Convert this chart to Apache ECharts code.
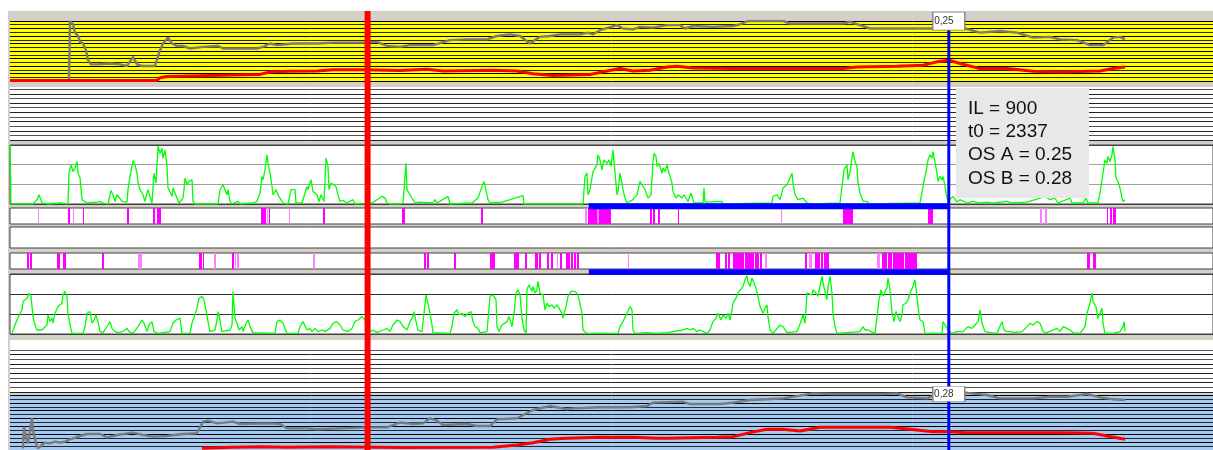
<!DOCTYPE html>
<html><head><meta charset="utf-8">
<script src="https://cdn.jsdelivr.net/npm/echarts@6/dist/echarts.min.js"></script>
<style>html,body{margin:0;padding:0;background:#fff}#c{width:1213px;height:450px}</style>
</head><body><div id="c"></div>
<script>
// ---------------- DATA (x = sample index, 1 sample = DT time units) ----------------
const DT = 2.5;
const IL = 900;
const T0 = 2337;
const CUT_T = 884;
const OS_A = 0.25;
const OS_B = 0.28;

// upper panel (yellow): reference (gray) and OS A (red)
const grayA = [[55,0],[56,0.72],[58,0.72],[59,0.68],[61,0.58],[63,0.6],[64,0.54],[66,0.47],[69,0.45],[72,0.37],[74,0.25],[77,0.2],[83,0.2],[96,0.21],[106,0.2],[113,0.18],[119,0.29],[123,0.2],[128,0.18],[141,0.18],[146,0.37],[149,0.45],[154,0.52],[158,0.45],[163,0.42],[169,0.42],[176,0.39],[189,0.41],[204,0.42],[209,0.39],[226,0.39],[243,0.39],[249,0.41],[256,0.45],[263,0.43],[279,0.45],[303,0.45],[319,0.46],[333,0.46],[349,0.46],[363,0.47],[373,0.42],[386,0.41],[396,0.43],[419,0.43],[436,0.49],[453,0.5],[473,0.5],[483,0.54],[496,0.56],[506,0.54],[516,0.45],[526,0.53],[536,0.54],[546,0.56],[566,0.56],[574,0.58],[579,0.56],[586,0.61],[603,0.67],[609,0.63],[619,0.62],[626,0.65],[639,0.64],[653,0.67],[666,0.67],[671,0.63],[679,0.66],[699,0.65],[719,0.66],[726,0.68],[734,0.72],[753,0.72],[769,0.72],[776,0.69],[786,0.69],[829,0.69],[836,0.71],[846,0.67],[856,0.63],[886,0.63],[916,0.63],[951,0.63],[966,0.58],[986,0.6],[1003,0.58],[1019,0.52],[1036,0.53],[1046,0.5],[1063,0.49],[1076,0.43],[1089,0.43],[1099,0.52],[1106,0.53],[1111,0.5]];
const osA = [[-4,0.006],[143,0.006],[146,0.039],[153,0.055],[186,0.063],[219,0.071],[246,0.079],[256,0.108],[276,0.116],[303,0.12],[319,0.136],[349,0.136],[386,0.125],[413,0.14],[429,0.12],[479,0.128],[503,0.12],[519,0.088],[539,0.067],[576,0.079],[593,0.12],[606,0.149],[619,0.12],[636,0.128],[653,0.169],[663,0.177],[679,0.157],[719,0.149],[753,0.149],[786,0.149],[829,0.149],[843,0.169],[883,0.177],[909,0.189],[923,0.23],[935,0.25],[946,0.21],[966,0.149],[993,0.149],[1019,0.116],[1046,0.108],[1086,0.12],[1099,0.149],[1111,0.169]];

// activity A (green)
const greenA = [[-4,3],[-3,0],[19,0],[23,0.22],[25,0.47],[28,0.05],[35,0],[36,0.1],[37,0],[46,0.05],[54,0],[55,1.57],[57,1.99],[59,1.65],[61,1.82],[63,2.16],[64,1.57],[66,1.32],[68,0.22],[69,0.17],[73,0.05],[74,0],[83,0.1],[86,0.13],[89,0.05],[94,0],[97,0.69],[99,0.47],[101,0.13],[103,0.47],[105,0.39],[108,0.13],[110,0.05],[113,0.1],[114,0.73],[116,1.4],[119,2.21],[121,1.99],[123,1.57],[124,1.06],[126,0.73],[129,0.47],[131,0.13],[133,0.56],[134,0.73],[136,0.39],[138,0.05],[140,1.57],[142,1.06],[143,1.99],[144,2.95],[146,2.58],[148,2.83],[149,2.33],[151,2.75],[153,1.91],[154,0.81],[156,0.64],[158,0.39],[159,0.81],[161,0.56],[163,0.3],[165,0.05],[169,0.3],[170,0.73],[171,1.32],[173,0.98],[175,1.15],[178,1.23],[179,0.13],[181,0],[204,0],[206,0.73],[209,0.98],[211,0.73],[213,0.47],[214,0.73],[216,0.13],[218,0],[224,0.13],[226,0],[239,0.05],[243,0.13],[246,0.56],[248,1.4],[249,1.23],[251,1.74],[253,2.5],[254,2.07],[256,1.57],[258,0.89],[259,0.47],[262,0.73],[264,0.47],[266,0.3],[269,0.05],[274,0],[277,0.73],[279,0.81],[281,0.73],[282,0.05],[288,0.05],[289,0.13],[291,0.56],[293,0.89],[294,0.73],[297,1.23],[299,0.64],[301,0.56],[303,0.47],[305,0.13],[307,0.47],[310,0.13],[312,2.33],[314,1.91],[315,0.73],[317,1.06],[319,0.98],[322,0.89],[324,0.47],[326,0.13],[329,0.19],[333,0.05],[339,0.22],[341,0],[358,0.05],[359,0.13],[363,0.22],[368,0.39],[371,0.3],[373,0.05],[376,0],[386,0],[389,0.05],[390,0.73],[392,2.07],[393,0.73],[396,0.47],[399,0.22],[401,0.05],[404,0.1],[406,0],[419,0.05],[421,0.22],[423,0.05],[434,0.39],[436,0],[458,0.05],[459,0.13],[464,0.3],[468,0.89],[470,1.15],[472,1.06],[474,0.22],[476,0.05],[488,0.1],[489,0],[509,0.42],[510,0],[569,0],[571,1.4],[573,1.57],[574,0.47],[576,0.73],[578,0.64],[579,1.65],[581,1.74],[583,1.99],[584,2.5],[586,2.24],[588,1.74],[590,2.24],[593,2.07],[595,2.24],[597,1.91],[599,2.75],[600,2.16],[603,0.47],[604,0.64],[606,1.57],[608,1.06],[609,0.73],[611,0.3],[613,0.05],[619,0.22],[623,0.47],[626,1.15],[629,0.89],[631,0.73],[634,0.3],[637,0.47],[639,2.16],[640,2.58],[642,2.41],[643,1.91],[645,2.07],[648,1.57],[649,1.82],[651,1.65],[653,1.99],[655,1.57],[658,1.06],[659,0.64],[662,0.3],[664,0.47],[668,0.3],[670,0.47],[672,0.39],[674,0.13],[677,0.56],[679,0.22],[680,0.05],[689,0.05],[690,0.81],[691,0.1],[708,0.13],[709,0],[758,0.05],[759,0.39],[763,0.47],[766,0.22],[769,0.81],[773,0.98],[776,1.32],[778,1.57],[779,1.06],[781,0.47],[784,0.22],[786,0.13],[789,0.3],[793,0.05],[799,0],[826,0.05],[828,0.13],[830,1.74],[833,1.99],[834,1.23],[836,1.65],[838,1.57],[839,2.66],[841,2.16],[843,1.91],[844,1.06],[846,0.56],[849,0.13],[853,0.13],[856,0],[906,0.05],[908,0.13],[909,0.89],[911,1.4],[913,1.91],[914,2.24],[916,2.5],[918,2.33],[919,2.66],[921,2.66],[923,1.57],[924,1.15],[926,1.4],[928,1.23],[929,1.4],[931,0.89],[933,0.3],[934,0.13],[936,0.05],[939,0.39],[943,0.1],[946,0.22],[953,0.05],[959,0.13],[966,0.05],[973,0.1],[979,0.05],[993,0.13],[999,0.05],[1013,0.1],[1026,0.3],[1031,0.39],[1036,0.22],[1041,0.3],[1044,0.05],[1056,0.3],[1058,0.05],[1069,0.05],[1072,0.3],[1074,0.05],[1084,0.05],[1086,0.56],[1088,1.23],[1089,1.57],[1091,2.24],[1093,2.07],[1094,2.41],[1096,2.16],[1098,2.5],[1099,2.92],[1101,2.24],[1102,1.32],[1104,1.15],[1106,0.81],[1108,0.3],[1109,0.13],[1111,0.22]];

// event ticks A / B : [start, end, strong(1)/weak(0)]
const ticksA = [[24,25,0],[54,56,1],[59,60,0],[69,70,1],[113,115,1],[139,141,1],[143,147,1],[247,252,1],[253,254,0],[255,256,1],[275,276,0],[309,311,1],[388,391,1],[467,469,1],[571,573,0],[574,583.5,1],[584.5,597,1],[636,638,1],[639,641,1],[644,646,1],[664,665,1],[767,768,0],[829,839,1],[914,919,1],[1026,1028,0],[1031,1033,0],[1093,1094,1],[1096,1098,1],[1099,1102,1]];
const ticksB = [[13,15,1],[16,18,1],[43,46,1],[49,52,1],[88,90,1],[124,128,0],[185,188,1],[189,190,1],[200,202,0],[218,220,1],[221,222,0],[223,225,0],[299,301,0],[410,412,1],[413,415,1],[440,442,1],[476,481,1],[500,505,1],[511,513,1],[521,524,1],[525,527,1],[533,535,1],[537,539,1],[543,544,0],[546,548,1],[552,556,1],[557,559,1],[560,562,1],[563,565,1],[614,615,0],[702,706,1],[711,713,1],[714,716,1],[719,730,1],[731,740,1],[741,745,1],[746,748,1],[751,753,0],[791,793,1],[795,798,0],[801,806,1],[807,809,1],[810,815,1],[863,866,0],[868,873,1],[874,878,1],[879,890,1],[891,903,1],[1073,1076,1],[1079,1082,1]];

// activity B (green)
const greenB = [[-2,0.03],[1,0.45],[3,0.7],[5,0.79],[8,1.21],[9,1.62],[11,1.54],[13,1.79],[15,2.04],[17,1.88],[19,0.87],[21,0.45],[23,0.2],[25,0.12],[28,0.2],[30,0.12],[33,0.45],[34,0.95],[36,0.62],[38,0.79],[39,0.54],[41,1.04],[43,1.12],[44,1.37],[46,1.29],[48,1.54],[49,1.96],[51,2.13],[53,1.88],[54,1.04],[56,0.45],[58,0.03],[69,0.03],[71,0.37],[73,1.04],[76,1.12],[78,0.54],[80,0.7],[82,0.95],[84,0.62],[86,0.12],[89,0.07],[94,0.45],[96,0.62],[98,0.28],[101,0.12],[104,0.07],[109,0.12],[113,0.28],[115,0.12],[119,0.03],[124,0.37],[128,0.7],[130,0.54],[133,0.12],[135,0.45],[138,0.62],[140,0.12],[144,0.03],[156,0.12],[159,0.54],[162,0.7],[166,0.79],[168,0.03],[176,0.03],[178,0.54],[180,0.62],[183,1.29],[185,1.79],[188,1.88],[190,1.71],[192,1.21],[194,0.62],[196,0.12],[201,0.2],[203,0.7],[204,1.12],[206,0.7],[208,0.12],[216,0.2],[218,0.45],[219,2.13],[221,0.79],[223,0.54],[225,0.2],[228,0.37],[229,0.12],[232,0.54],[234,0.7],[236,0.37],[239,0.07],[261,0.03],[263,0.62],[266,0.7],[269,0.54],[273,0.03],[284,0.03],[286,0.37],[289,0.62],[291,0.54],[293,0.2],[296,0.28],[298,0.12],[301,0.28],[304,0.12],[308,0.2],[311,0.12],[316,0.28],[319,0.54],[323,0.62],[326,0.45],[329,0.2],[331,0.28],[334,0.12],[338,0.28],[341,0.62],[344,0.7],[348,0.87],[351,0.7],[353,0.28],[356,0.12],[359,0.2],[363,0.07],[369,0.2],[373,0.28],[376,0.12],[379,0.45],[383,0.7],[386,0.62],[389,0.37],[393,0.2],[396,0.62],[399,0.87],[400,1.12],[402,0.62],[404,0.2],[408,0.12],[410,1.04],[412,1.96],[414,1.88],[416,1.04],[418,0.45],[419,0.07],[436,0.03],[438,0.37],[440,1.04],[443,1.21],[445,0.95],[448,1.04],[451,0.87],[454,1.04],[457,1.12],[459,0.62],[461,0.37],[464,0.28],[466,0.07],[473,0.12],[476,1.88],[479,1.96],[482,1.71],[483,0.37],[485,0.12],[488,0.45],[490,0.37],[493,0.62],[495,0.87],[498,0.37],[500,1.04],[502,2.04],[504,2.21],[506,1.96],[508,0.79],[510,0.2],[512,0.03],[513,2.21],[515,2.46],[518,2.13],[519,2.38],[521,2.04],[523,2.21],[524,2.63],[526,2.04],[529,1.96],[531,1.21],[533,1.54],[535,1.37],[538,1.46],[540,1.29],[543,1.46],[545,1.37],[548,1.04],[549,0.79],[552,1.37],[554,1.88],[557,2.13],[559,2.04],[561,2.13],[564,1.96],[566,2.04],[568,1.04],[569,0.2],[573,0.03],[604,0.03],[606,0.37],[609,0.62],[611,0.7],[613,1.04],[616,1.37],[618,1.21],[619,0.2],[621,0.03],[633,0.07],[643,0.03],[653,0.07],[669,0.2],[673,0.28],[676,0.2],[679,0.28],[683,0.12],[686,0.2],[693,0.03],[696,0.2],[699,0.62],[702,0.79],[704,1.04],[707,0.7],[709,0.95],[712,0.79],[714,1.04],[716,0.7],[718,1.21],[719,1.54],[722,1.79],[724,2.04],[726,2.13],[729,2.38],[731,2.71],[733,2.91],[734,2.63],[736,2.38],[738,2.8],[740,2.55],[742,2.29],[744,1.88],[746,1.37],[749,1.04],[751,1.29],[753,1.46],[754,0.87],[756,0.2],[759,0.03],[766,0.45],[769,0.37],[773,0.07],[783,0.12],[786,0.5],[789,0.95],[791,0.54],[793,2.04],[795,2.13],[798,1.96],[799,2.21],[802,2.04],[804,1.88],[806,2.38],[808,2.88],[809,2.55],[811,2.63],[813,1.71],[814,2.38],[816,2.88],[818,2.04],[819,1.04],[821,0.37],[823,0.03],[846,0.12],[849,0.37],[851,0.2],[854,0.2],[857,0.12],[861,0.03],[863,0.87],[865,1.71],[867,2.21],[869,1.88],[871,2.13],[873,2.29],[874,2.8],[876,2.21],[878,1.04],[880,0.62],[882,1.12],[884,0.87],[886,0.62],[888,0.95],[889,1.46],[892,1.54],[894,1.71],[896,2.04],[899,2.38],[901,2.71],[903,2.8],[904,1.37],[906,0.7],[909,0.62],[911,0.03],[928,0.03],[929,0.62],[932,0.37],[934,0.2],[938,0.03],[943,0.12],[949,0.12],[951,0.2],[954,0.37],[958,0.28],[961,0.45],[964,0.62],[966,1.21],[968,0.54],[971,0.12],[976,0.07],[983,0.03],[988,0.62],[990,0.2],[993,0.12],[996,0.12],[1001,0.07],[1008,0.12],[1013,0.37],[1016,0.54],[1019,0.45],[1023,0.62],[1026,0.54],[1029,0.12],[1033,0.07],[1039,0.2],[1043,0.28],[1046,0.12],[1049,0.37],[1053,0.28],[1056,0.2],[1059,0.07],[1066,0.03],[1071,0.37],[1073,1.04],[1076,1.54],[1078,2.04],[1079,1.62],[1082,1.37],[1084,0.79],[1086,1.04],[1088,1.29],[1089,0.54],[1091,0.03],[1099,0.03],[1106,0.12],[1109,0.37],[1110,0.62],[1111,0.12]];

// lower panel (blue): reference (gray) and OS B (red)
const grayB = [[9,0.025],[10,0.356],[12,0.204],[14,0.102],[18,0.484],[19,0.305],[22,0.102],[24,0.025],[28,0.076],[31,0.112],[36,0.102],[41,0.127],[46,0.112],[51,0.127],[56,0.163],[66,0.214],[73,0.244],[86,0.244],[93,0.193],[103,0.229],[119,0.265],[129,0.229],[139,0.204],[153,0.214],[169,0.244],[183,0.255],[189,0.433],[194,0.448],[203,0.407],[219,0.433],[226,0.397],[253,0.407],[266,0.397],[273,0.331],[293,0.331],[303,0.316],[326,0.331],[353,0.346],[373,0.346],[386,0.42],[399,0.397],[409,0.407],[416,0.484],[423,0.448],[429,0.382],[453,0.397],[463,0.366],[476,0.366],[483,0.468],[503,0.484],[519,0.611],[536,0.672],[553,0.621],[559,0.636],[586,0.652],[616,0.652],[633,0.672],[639,0.723],[669,0.738],[676,0.702],[706,0.702],[719,0.723],[736,0.764],[753,0.774],[769,0.789],[786,0.83],[799,0.865],[819,0.855],[869,0.855],[883,0.865],[893,0.804],[913,0.789],[919,0.825],[951,0.876],[973,0.84],[986,0.789],[1019,0.789],[1036,0.814],[1053,0.814],[1073,0.855],[1086,0.804],[1099,0.774],[1111,0.764]];
const osB = [[188,0.025],[219,0.041],[249,0.051],[273,0.041],[316,0.051],[386,0.04],[479,0.041],[503,0.076],[519,0.112],[536,0.163],[553,0.178],[586,0.193],[619,0.193],[643,0.178],[653,0.178],[703,0.193],[719,0.204],[736,0.265],[753,0.316],[769,0.316],[786,0.29],[806,0.346],[836,0.346],[876,0.346],[896,0.316],[919,0.28],[935,0.28],[953,0.265],[986,0.265],[1019,0.265],[1053,0.265],[1079,0.255],[1093,0.214],[1111,0.163]];

// ---------------- LAYOUT ----------------
const X_MIN = -4, X_MAX = 1199;
const t0s = T0 / DT, ils = IL / DT, cuts = CUT_T / DT;
const FONT = '"Liberation Sans", Arial, sans-serif';

const G = (o) => Object.assign({left: 10, right: 0, show: true, borderWidth: 0, outerBoundsMode: 'none', containLabel: false}, o);
const grids = [
  G({left: 8, top: 11, bottom: 0, backgroundColor: '#d4d0c8'}),               // 0 frame
  G({top: 21, height: 60, backgroundColor: '#ffff00'}),                        // 1 yellow
  G({top: 87, height: 53, backgroundColor: '#ffffff'}),                        // 2 white bg
  G({top: 89.3, height: 50.7, show: false}),                                   // 3 lines
  G({top: 145, height: 59, backgroundColor: '#ffffff', borderWidth: 1, borderColor: '#404040'}), // 4 green A
  G({top: 208, height: 16, backgroundColor: '#ffffff', borderWidth: 1, borderColor: '#404040'}), // 5 ticks A
  G({top: 227, height: 21, backgroundColor: '#ffffff', borderWidth: 1, borderColor: '#404040'}), // 6 empty
  G({top: 253, height: 16, backgroundColor: '#ffffff', borderWidth: 1, borderColor: '#404040'}), // 7 ticks B
  G({top: 274, height: 60, backgroundColor: '#ffffff', borderWidth: 1, borderColor: '#404040'}), // 8 green B
  G({top: 340, height: 53, backgroundColor: '#ffffff'}),                       // 9 white bg
  G({top: 350, height: 42, show: false}),                                      // 10 lines
  G({top: 395, height: 55, backgroundColor: '#a6caf0'}),                       // 11 blue
  G({top: 11, bottom: 0, show: false})                                         // 12 overlay
];

const hidden = {axisLine: {show: false}, axisTick: {show: false}, axisLabel: {show: false}};
const xAxes = grids.map((g, i) => Object.assign({type: 'value', gridIndex: i, min: i === 0 ? 0 : X_MIN, max: i === 0 ? 1 : X_MAX, show: false}, hidden));
const ySplit = (i, min, max, interval, colors) => Object.assign({type: 'value', gridIndex: i, min, max, interval, show: true, z: 0,
  splitLine: {show: true, lineStyle: {color: colors, width: 1}}}, hidden);
const yPlain = (i, min, max, extra) => Object.assign({type: 'value', gridIndex: i, min, max, show: false, splitLine: {show: false}}, hidden, extra || {});
const yAxes = [
  yPlain(0, 0, 1),
  ySplit(1, 0, 0.72, 0.045, ['#000000', '#2b2b00']),
  yPlain(2, 0, 1),
  ySplit(3, 0, 11, 1, ['#222222', '#555555']),
  ySplit(4, 0, 3, 1, ['#404040', '#a0a0a0', '#a0a0a0', '#404040']),
  yPlain(5, 0, 1),
  yPlain(6, 0, 1),
  yPlain(7, 0, 1),
  ySplit(8, 0, 3, 1, ['#404040', '#303030', '#303030', '#404040']),
  yPlain(9, 0, 1),
  ySplit(10, 0, 9, 1, ['#222222', '#555555']),
  ySplit(11, 0, 0.84, 0.06, ['#000000', '#1c2a3a']),
  yPlain(12, 0, 439, {inverse: true})
];

const line = (gi, data, color, width, extra) => Object.assign({
  type: 'line', xAxisIndex: gi, yAxisIndex: gi, data, showSymbol: false, symbol: 'none',
  lineStyle: {color, width}, itemStyle: {color}, silent: true, zlevel: 1, z: 2, animation: false
}, extra || {});

function tickRender(params, api) {
  const a = api.coord([api.value(0), 1]);
  const b = api.coord([api.value(1), 0]);
  return {type: 'rect', shape: {x: a[0], y: a[1], width: Math.max(1, b[0] - a[0]), height: b[1] - a[1]},
    style: {fill: api.value(2) ? '#ff00ff' : '#ff80ff'}};
}
const ticks = (gi, data) => ({type: 'custom', xAxisIndex: gi, yAxisIndex: gi, data, renderItem: tickRender,
  dimensions: ['s', 'e', 'k'], encode: {x: [0, 1], y: 2}, silent: true, zlevel: 1, z: 2, animation: false});

const valueBox = (coord, txt, h, off) => ({
  symbol: 'rect', symbolSize: [32, h], symbolOffset: [0, off], silent: true, animation: false, zlevel: 2, z: 10,
  itemStyle: {color: '#ffffff', borderColor: '#808080', borderWidth: 1},
  label: {show: true, position: 'insideLeft', distance: 2, formatter: txt, color: '#333', fontSize: 10, fontFamily: FONT},
  data: [{coord}]
});
const comma = (v) => v.toFixed(2).replace('.', ',');

const series = [
  line(1, grayA, '#7a7a7a', 2.4),
  line(1, osA, '#ff0000', 3, {markPoint: valueBox([t0s, 0.72], comma(OS_A), 18, 0)}),
  line(4, greenA, '#00ff00', 1.3),
  ticks(5, ticksA),
  ticks(7, ticksB),
  line(8, greenB, '#00ff00', 1.3),
  line(11, grayB, '#7a7a7a', 2.4, {clip: false}),
  line(11, osB, '#ff0000', 3, {markPoint: valueBox([t0s, 0.84], comma(OS_B), 15, -1)}),
  // overlay: cut line, t0 line and interval bars
  line(12, [[cuts, 0], [cuts, 439]], '#ff0000', 6, {z: 4}),
  line(12, [[t0s, 18], [t0s, 439]], '#0000ff', 3, {z: 4}),
  line(12, [[t0s - ils, 195.3], [t0s, 195.3]], '#0000ff', 6, {z: 4}),
  line(12, [[t0s - ils, 261], [t0s, 261]], '#0000ff', 5.5, {z: 4})
];

const infoLines = ['IL = ' + IL, 't0 = ' + T0, 'OS A = ' + OS_A.toFixed(2), 'OS B = ' + OS_B.toFixed(2)];

const chart = echarts.init(document.getElementById('c'), null, {renderer: 'canvas'});
chart.setOption({
  animation: false,
  backgroundColor: '#ffffff',
  grid: grids, xAxis: xAxes, yAxis: yAxes, series,
  graphic: [
    {type: 'rect', zlevel: 2, z: 100, silent: true, shape: {x: 956, y: 88, width: 133, height: 110}, style: {fill: '#e8e8e8'}},
    {type: 'text', zlevel: 2, z: 101, silent: true, x: 968, y: 97,
      style: {text: infoLines.join('\n'), fontSize: 19, fontFamily: FONT, fill: '#111111', lineHeight: 23.3}}
  ]
});
</script></body></html>
